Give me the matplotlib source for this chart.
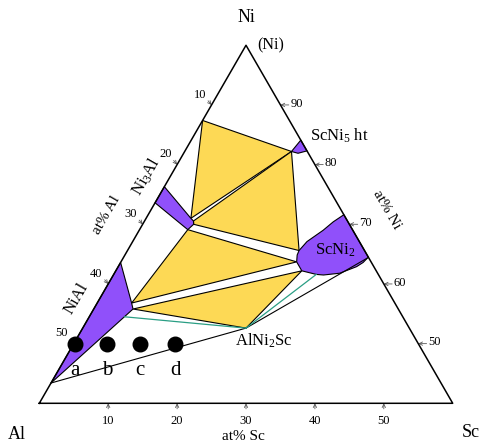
import numpy as np
import matplotlib.pyplot as plt
from matplotlib.patches import Polygon

plt.rcParams['font.family'] = ['Liberation Serif', 'DejaVu Serif']
plt.rcParams['mathtext.fontset'] = 'custom'
plt.rcParams['mathtext.rm'] = 'Liberation Serif'
plt.rcParams['mathtext.it'] = 'Liberation Serif:italic'

# compositions given as (at% Sc, at% Ni), Al is the balance
fcc_ni3al_scni5 = [(0.0, 87.4), (15.5, 82.2), (6.5, 71.0)]
ni3al_scni5_scni2 = [(7.1, 70.55), (15.5, 82.2), (24.9, 65.6), (7.4, 70.0)]
ni3al_scni2_nial = [(7.0, 69.1), (25.5, 63.7), (5.0, 56.8)]
nial_scni2_alni2sc = [(5.7, 55.8), (27.0, 62.2), (23.7, 52.6)]

ni3al_region = [(0.0, 76.3), (6.5, 71.0), (7.1, 70.55), (7.4, 70.0),
                (7.0, 69.1), (0.0, 73.6)]
nial_region = [(0.0, 63.6), (5.0, 56.8), (5.7, 55.8), (0.0, 43.4)]
scni5_region = [(15.5, 82.2), (15.9, 84.1), (17.7, 82.3), (16.6, 81.9)]
scni2_region = [(28.4, 71.6), (27.45, 70.4), (26.7, 69.0), (25.3, 67.1),
                (24.9, 65.6), (25.0, 64.85), (25.5, 63.7), (27.0, 62.2),
                (29.4, 61.6), (30.5, 61.5), (32.7, 61.8), (34.6, 62.9),
                (35.2, 63.6), (35.5, 64.5)]

alni2sc = (23.7, 52.6)
black_ties = [[(0.0, 43.4), alni2sc], [alni2sc, (35.4, 64.3)]]
green_ties = [[(5.1, 54.5), alni2sc], [alni2sc, (29.4, 61.6)]]

sample_names = ['a', 'b', 'c', 'd']
sample_sc = [0.2, 4.8, 9.6, 14.7]
sample_ni = [50.0, 50.0, 50.0, 50.0]

sc_ticks = [10, 20, 30, 40, 50]
al_ticks = [10, 20, 30, 40, 50]
ni_ticks = [90, 80, 70, 60, 50]

yellow = '#fdd955'
purple = '#9050fa'
green = '#2a9e84'


def tern(points):
    pts = np.asarray(points, float)
    sc, ni = pts[:, 0], pts[:, 1]
    return np.column_stack([sc + 0.5 * (ni - 40), (ni - 40) * np.sqrt(3) / 2])


fig = plt.figure(figsize=(4.8, 4.46), dpi=100)
ax = fig.add_axes([0, 0, 1, 1])
ax.set_xlim(-5.704, 63.96)
ax.set_ylim(-6.197, 58.53)
ax.axis('off')

for poly in [fcc_ni3al_scni5, ni3al_scni5_scni2, ni3al_scni2_nial, nial_scni2_alni2sc]:
    ax.add_patch(Polygon(tern(poly), closed=True, fc=yellow, ec='black', lw=0.8, zorder=2))
for poly in [ni3al_region, nial_region, scni5_region, scni2_region]:
    ax.add_patch(Polygon(tern(poly), closed=True, fc=purple, ec='black', lw=0.8,
                         joinstyle='round', zorder=2))

for seg in black_ties:
    xy = tern(seg)
    ax.plot(xy[:, 0], xy[:, 1], color='black', lw=0.8, zorder=3)
for seg in green_ties:
    xy = tern(seg)
    ax.plot(xy[:, 0], xy[:, 1], color=green, lw=0.9, zorder=3)

# outer triangle: Al60Ni40 - Sc60Ni40 - Ni
frame = tern([(0, 40), (60, 40), (0, 100), (0, 40)])
ax.plot(frame[:, 0], frame[:, 1], color='black', lw=1.1, zorder=4)

# ticks with small arrow heads
arrow = dict(arrowstyle='->', lw=0.6, color='0.35', shrinkA=0, shrinkB=0,
             mutation_scale=6)
for v in sc_ticks:
    p = tern([(v, 40)])[0]
    ax.annotate('', xy=p, xytext=(0, -4), textcoords='offset points', arrowprops=arrow)
    ax.annotate(str(v), xy=p, xytext=(0, -12.5), textcoords='offset points',
                ha='center', va='center', fontsize=9)
for v in al_ticks:
    p = tern([(0, 100 - v)])[0]
    ax.annotate('', xy=p, xytext=(-2.5, 3), textcoords='offset points', arrowprops=arrow)
    ax.annotate(str(v), xy=p, xytext=(-8.5, 7.5), textcoords='offset points',
                ha='center', va='center', fontsize=9)
for v in ni_ticks:
    p = tern([(100 - v, v)])[0]
    ax.annotate('', xy=p, xytext=(6, 0), textcoords='offset points', arrowprops=arrow)
    ax.annotate(str(v), xy=p, xytext=(11.5, 1), textcoords='offset points',
                ha='center', va='center', fontsize=9)

# sample alloys
sp = tern(list(zip(sample_sc, sample_ni)))
ax.scatter(sp[:, 0], sp[:, 1], s=110, color='black', zorder=5)
for name, (x, y) in zip(sample_names, sp):
    ax.annotate(name, xy=(x, y), xytext=(0, -19), textcoords='offset points',
                ha='center', va='center', fontsize=15)

# corner and axis labels
ax.text(30.0, 55.94, 'Ni', ha='center', va='center', fontsize=13)
ax.text(33.63, 52.0, '(Ni)', ha='center', va='center', fontsize=11.5)
ax.text(-3.23, -4.6, 'Al', ha='center', va='center', fontsize=13)
ax.text(62.66, -4.3, 'Sc', ha='center', va='center', fontsize=13)
ax.text(29.56, -4.88, 'at% Sc', ha='center', va='center', fontsize=11)
ax.text(9.78, 27.3, 'at% Al', ha='center', va='center', fontsize=11, rotation=60)
ax.text(50.42, 28.06, 'at% Ni', ha='center', va='center', fontsize=11, rotation=-60)

# phase labels
ax.text(15.59, 32.9, r'Ni$_\mathrm{3}$Al', ha='center', va='center', fontsize=12, rotation=60)
ax.text(5.43, 15.24, 'NiAl', ha='center', va='center', fontsize=12, rotation=60)
ax.text(39.29, 38.8, r'ScNi$_\mathrm{5}$ ht', ha='left', va='center', fontsize=12)
ax.text(42.92, 22.25, r'ScNi$_\mathrm{2}$', ha='center', va='center', fontsize=12)
ax.text(32.66, 9.09, r'AlNi$_\mathrm{2}$Sc', ha='center', va='center', fontsize=12)

fig.savefig('out.png', dpi=100, facecolor='white')
